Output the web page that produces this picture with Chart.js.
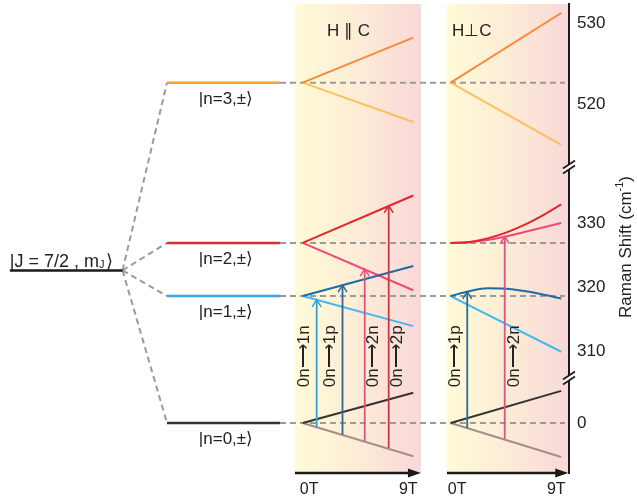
<!DOCTYPE html>
<html>
<head>
<meta charset="utf-8">
<script src="https://cdn.jsdelivr.net/npm/chart.js@4.4.1/dist/chart.umd.min.js"></script>
<style>
  html, body { margin: 0; padding: 0; background: #fff; }
  #myChart { display: block; }
</style>
</head>
<body>
<canvas id="myChart" width="637" height="499" style="width:637px;height:499px"></canvas>
<script>
const FONT = '"Liberation Sans", Arial, Helvetica, sans-serif';

// zero-field energies of |n,±> (cm-1), n = 0..3
const LEVELS = [0, 318.6, 326.9, 522.7];
const LEVEL_NAMES = ['|n=0,±⟩', '|n=1,±⟩', '|n=2,±⟩', '|n=3,±⟩'];
const J_LEVEL = 322.6; // schematic position of the free-ion |J = 7/2, mJ> level

// field points (T)
const FIELD_ENDS = [0, 9];
const FIELD_CURVE = [0, 1.5, 3, 4.5, 6, 7.5, 9];

// H // C : upper (+) and lower (-) branches, linear in field
const PAR_N0_UP = [0, 4.7];
const PAR_N0_DN = [0, -5.2];
const PAR_N1_UP = [318.6, 323.3];
const PAR_N1_DN = [318.6, 313.9];
const PAR_N2_UP = [326.9, 334.3];
const PAR_N2_DN = [326.9, 319.5];
const PAR_N3_UP = [522.7, 528.2];
const PAR_N3_DN = [522.7, 517.9];

// H ⊥ C
const PERP_N0_UP = [0, 5.0];
const PERP_N0_DN = [0, -5.3];
const PERP_N1_UP = [318.6, 319.35, 319.8, 319.75, 319.4, 318.85, 318.2]; // on FIELD_CURVE
const PERP_N1_DN = [318.6, 309.9];
const PERP_N2_UP = [326.9, 327.05, 327.6, 328.5, 329.7, 331.2, 332.9];  // on FIELD_CURVE
const PERP_N2_DN = [326.9, 327.0, 327.35, 327.9, 328.6, 329.3, 330.0];  // on FIELD_CURVE
const PERP_N3_UP = [522.7, 531.2];
const PERP_N3_DN = [522.7, 515.1];

// observed transitions
const PAR_ARROW_LABELS = ['0n⟶1n', '0n⟶1p', '0n⟶2n', '0n⟶2p'];
const PAR_ARROW_FIELD = [1.14, 3.24, 5.05, 7.0];
const PAR_ARROW_FROM = [-0.6, -1.8, -2.8, -3.9];
const PAR_ARROW_TO = [318.0, 320.3, 322.8, 332.7];

const PERP_ARROW_LABELS = ['0n⟶1p', '0n⟶2n'];
const PERP_ARROW_FIELD = [1.35, 4.4];
const PERP_ARROW_FROM = [-0.8, -2.5];
const PERP_ARROW_TO = [319.25, 327.9];

// broken Raman-shift axis
const Y_SEGMENTS = [
  { min: -7.8, max: 7.0, weight: 95 },
  { min: 305.8, max: 338.75, weight: 211 },
  { min: 512.4, max: 532.3, weight: 163 }
];
const Y_TICKS = [0, 310, 320, 330, 520, 530];

// layout (not data)
const J_X = [-23.83, -14.66];
const LEVEL_X = [-11.04, -1.85];
const GUIDE_END = 21.34;
const PANELS = [
  { axis: 'x', from: -0.63, to: 9.62, title: 'H ∥ C', titleDx: 32 },
  { axis: 'x2', from: -0.30, to: 9.57, title: 'H⊥C', titleDx: 5 }
];
const PAR_LABEL_DX = [-12.7, -11.9, 9, 8.5];
const PERP_LABEL_DX = [-12.3, 10];
const ARROW_LABEL_Y = 309.2;

const LEVEL_COLORS = ['#333333', '#3ba4dc', '#d92b3a', '#f5a32a'];
const UP_COLORS = ['#333333', '#1e6aa3', '#e2252b', '#f7893b'];
const DN_COLORS = ['#a58e8a', '#46b6f0', '#f2457a', '#fdc05a'];
const GUIDE = '#9a9a9a';

class BrokenScale extends Chart.LinearScale {
  getPixelForValue(value) {
    const total = Y_SEGMENTS.reduce((s, g) => s + g.weight, 0);
    let acc = 0;
    for (let i = 0; i < Y_SEGMENTS.length; i++) {
      const g = Y_SEGMENTS[i];
      if (value <= g.max || i === Y_SEGMENTS.length - 1) {
        acc += (value - g.min) / (g.max - g.min) * g.weight;
        break;
      }
      acc += g.weight;
    }
    return this.bottom - acc / total * (this.bottom - this.top);
  }
  getValueForPixel(pixel) {
    const total = Y_SEGMENTS.reduce((s, g) => s + g.weight, 0);
    let f = (this.bottom - pixel) / (this.bottom - this.top) * total;
    for (let i = 0; i < Y_SEGMENTS.length; i++) {
      const g = Y_SEGMENTS[i];
      if (f <= g.weight || i === Y_SEGMENTS.length - 1) return g.min + f / g.weight * (g.max - g.min);
      f -= g.weight;
    }
  }
}
BrokenScale.id = 'broken';
BrokenScale.defaults = {};
Chart.register(BrokenScale);

const line = (xs, ys, color, extra = {}) => ({
  data: xs.map((x, i) => ({ x, y: ys[i] })),
  borderColor: color,
  borderWidth: 2,
  pointRadius: 0,
  fill: false,
  ...extra
});

const datasets = [];

// schematic part
LEVELS.forEach((e, n) => {
  datasets.push(line([LEVEL_X[1], GUIDE_END], [e, e], GUIDE, { borderDash: [6, 4], order: 10 }));
  datasets.push(line([J_X[1], LEVEL_X[0]], [J_LEVEL, e], GUIDE, { borderDash: [6, 4], order: 10 }));
  datasets.push(line(LEVEL_X, [e, e], LEVEL_COLORS[n], { borderWidth: 2.5, order: 5 }));
});
datasets.push(line(J_X, [J_LEVEL, J_LEVEL], '#1a1a1a', { borderWidth: 2.5, order: 5 }));

// H // C
[[PAR_N0_UP, PAR_N0_DN], [PAR_N1_UP, PAR_N1_DN], [PAR_N2_UP, PAR_N2_DN], [PAR_N3_UP, PAR_N3_DN]]
  .forEach(([up, dn], n) => {
    datasets.push(line(FIELD_ENDS, up, UP_COLORS[n], { order: 4 }));
    datasets.push(line(FIELD_ENDS, dn, DN_COLORS[n], { order: 4 }));
  });

// H ⊥ C
const curve = { cubicInterpolationMode: 'monotone' };
datasets.push(line(FIELD_ENDS, PERP_N0_UP, UP_COLORS[0], { xAxisID: 'x2', order: 4 }));
datasets.push(line(FIELD_ENDS, PERP_N0_DN, DN_COLORS[0], { xAxisID: 'x2', order: 4 }));
datasets.push(line(FIELD_CURVE, PERP_N1_UP, UP_COLORS[1], { xAxisID: 'x2', order: 4, ...curve }));
datasets.push(line(FIELD_ENDS, PERP_N1_DN, DN_COLORS[1], { xAxisID: 'x2', order: 4 }));
datasets.push(line(FIELD_CURVE, PERP_N2_DN, DN_COLORS[2], { xAxisID: 'x2', order: 4, ...curve }));
datasets.push(line(FIELD_CURVE, PERP_N2_UP, UP_COLORS[2], { xAxisID: 'x2', order: 3, ...curve }));
datasets.push(line(FIELD_ENDS, PERP_N3_UP, UP_COLORS[3], { xAxisID: 'x2', order: 4 }));
datasets.push(line(FIELD_ENDS, PERP_N3_DN, DN_COLORS[3], { xAxisID: 'x2', order: 4 }));

// transition arrows
const ARROW_COLORS = { '0n⟶1n': '#27a4df', '0n⟶1p': '#2a6a9a', '0n⟶2n': '#ec4f7d', '0n⟶2p': '#d7313f' };
PAR_ARROW_LABELS.forEach((lab, i) => {
  const b = PAR_ARROW_FIELD[i];
  datasets.push(line([b, b], [PAR_ARROW_FROM[i], PAR_ARROW_TO[i]], ARROW_COLORS[lab],
    { borderWidth: 1.8, order: 1, arrow: lab, labelDx: PAR_LABEL_DX[i] }));
});
PERP_ARROW_LABELS.forEach((lab, i) => {
  const b = PERP_ARROW_FIELD[i];
  datasets.push(line([b, b], [PERP_ARROW_FROM[i], PERP_ARROW_TO[i]], ARROW_COLORS[lab],
    { xAxisID: 'x2', borderWidth: 1.8, order: 1, arrow: lab, labelDx: PERP_LABEL_DX[i] }));
});

const panelBackgrounds = {
  id: 'panelBackgrounds',
  beforeDraw(chart) {
    const { ctx, chartArea } = chart;
    PANELS.forEach(p => {
      const sc = chart.scales[p.axis];
      const x0 = sc.getPixelForValue(p.from), x1 = sc.getPixelForValue(p.to);
      const g = ctx.createLinearGradient(x0, 0, x1, 0);
      g.addColorStop(0, '#fffbd7');
      g.addColorStop(0.5, '#fdecd6');
      g.addColorStop(1, '#f8d8d8');
      ctx.save();
      ctx.fillStyle = g;
      ctx.fillRect(x0, chartArea.top, x1 - x0, chartArea.bottom - chartArea.top);
      ctx.restore();
    });
  }
};

const decorations = {
  id: 'decorations',
  afterDatasetsDraw(chart) {
    const ctx = chart.ctx;
    const y = chart.scales.y;
    // arrow heads and labels
    chart.data.datasets.forEach((ds, i) => {
      if (!ds.arrow) return;
      const pts = chart.getDatasetMeta(i).data;
      const tip = pts[pts.length - 1];
      ctx.save();
      ctx.strokeStyle = ds.borderColor;
      ctx.lineWidth = 1.5;
      ctx.beginPath();
      ctx.moveTo(tip.x - 4.5, tip.y + 7);
      ctx.lineTo(tip.x, tip.y);
      ctx.lineTo(tip.x + 4.5, tip.y + 7);
      ctx.stroke();
      ctx.translate(tip.x + ds.labelDx, y.getPixelForValue(ARROW_LABEL_Y));
      ctx.rotate(-Math.PI / 2);
      ctx.fillStyle = '#222';
      ctx.font = `17px ${FONT}`;
      ctx.textAlign = 'center';
      ctx.textBaseline = 'middle';
      ctx.fillText(ds.arrow, 0, 0);
      ctx.restore();
    });
  },
  afterDraw(chart) {
    const { ctx, chartArea } = chart;
    const y = chart.scales.y;
    const xs = chart.scales.x;
    ctx.save();
    ctx.fillStyle = '#222';
    ctx.strokeStyle = '#1a1a1a';

    // level labels
    ctx.font = `17px ${FONT}`;
    ctx.textAlign = 'center';
    ctx.textBaseline = 'middle';
    const lx = (xs.getPixelForValue(LEVEL_X[0]) + xs.getPixelForValue(LEVEL_X[1])) / 2 + 2.5;
    LEVELS.forEach((e, n) => ctx.fillText(LEVEL_NAMES[n], lx, y.getPixelForValue(e) + 16.5));

    // |J = 7/2 , mJ>
    ctx.font = `18px ${FONT}`;
    ctx.textAlign = 'left';
    ctx.textBaseline = 'alphabetic';
    let jx = xs.getPixelForValue(J_X[0]);
    const jb = y.getPixelForValue(J_LEVEL) - 3.5;
    const part1 = '|J = 7/2 , m';
    ctx.fillText(part1, jx, jb);
    jx += ctx.measureText(part1).width;
    ctx.font = `11px ${FONT}`;
    ctx.fillText('J', jx, jb + 1);
    jx += ctx.measureText('J').width + 1.5;
    ctx.font = `18px ${FONT}`;
    ctx.fillText('⟩', jx, jb);

    // panel titles, field arrows, 0T / 9T
    PANELS.forEach(p => {
      const sc = chart.scales[p.axis];
      const x0 = sc.getPixelForValue(p.from), x1 = sc.getPixelForValue(p.to);
      ctx.font = `17px ${FONT}`;
      ctx.textAlign = 'left';
      ctx.textBaseline = 'middle';
      ctx.fillStyle = '#222';
      ctx.fillText(p.title, x0 + p.titleDx, chartArea.top + 27);

      const by = chartArea.bottom;
      ctx.lineWidth = 2.5;
      ctx.beginPath();
      ctx.moveTo(x0, by);
      ctx.lineTo(x1 - 8, by);
      ctx.stroke();
      ctx.fillStyle = '#1a1a1a';
      ctx.beginPath();
      ctx.moveTo(x1, by);
      ctx.lineTo(x1 - 13, by - 4.5);
      ctx.lineTo(x1 - 13, by + 4.5);
      ctx.closePath();
      ctx.fill();

      ctx.fillStyle = '#222';
      ctx.font = `16px ${FONT}`;
      ctx.textAlign = 'center';
      ctx.textBaseline = 'alphabetic';
      ctx.fillText(FIELD_ENDS[0] + 'T', sc.getPixelForValue(FIELD_ENDS[0]) + 6.5, by + 21);
      ctx.fillText(FIELD_ENDS[1] + 'T', sc.getPixelForValue(FIELD_ENDS[1]) - 5, by + 21);
    });

    // axis breaks
    const ax = chartArea.right;
    Y_SEGMENTS.slice(0, -1).forEach(g => {
      const py = y.getPixelForValue(g.max);
      ctx.fillStyle = '#fff';
      ctx.beginPath();
      ctx.moveTo(ax - 6, py + 6.5);
      ctx.lineTo(ax + 6, py - 1.5);
      ctx.lineTo(ax + 6, py - 6.5);
      ctx.lineTo(ax - 6, py + 1.5);
      ctx.closePath();
      ctx.fill();
      ctx.lineWidth = 1.8;
      ctx.beginPath();
      ctx.moveTo(ax - 6, py + 6.5);
      ctx.lineTo(ax + 6, py - 1.5);
      ctx.moveTo(ax - 6, py + 1.5);
      ctx.lineTo(ax + 6, py - 6.5);
      ctx.stroke();
    });

    // axis title
    ctx.fillStyle = '#222';
    ctx.translate(626, 247);
    ctx.rotate(-Math.PI / 2);
    ctx.textAlign = 'left';
    ctx.textBaseline = 'middle';
    const t1 = 'Raman Shift (cm', t2 = '-1', t3 = ')';
    ctx.font = `17px ${FONT}`;
    const w1 = ctx.measureText(t1).width, w3 = ctx.measureText(t3).width;
    ctx.font = `11px ${FONT}`;
    const w2 = ctx.measureText(t2).width;
    let tx = -(w1 + w2 + w3) / 2;
    ctx.font = `17px ${FONT}`;
    ctx.fillText(t1, tx, 0);
    tx += w1;
    ctx.font = `11px ${FONT}`;
    ctx.fillText(t2, tx, -6);
    tx += w2;
    ctx.font = `17px ${FONT}`;
    ctx.fillText(t3, tx, 0);
    ctx.restore();
  }
};

const ctx = document.getElementById('myChart');

const myChart = new Chart(ctx, {
  type: 'line',
  data: { datasets },
  options: {
    responsive: false,
    animation: false,
    events: [],
    layout: { padding: { left: 0, right: 0, top: 4, bottom: 26 } },
    plugins: { legend: { display: false }, tooltip: { enabled: false } },
    scales: {
      x: { type: 'linear', display: false, min: -24.63, max: 21.67 },
      x2: { type: 'linear', display: false, min: -36.67, max: 9.63 },
      y: {
        type: 'broken',
        position: 'right',
        min: -7.8,
        max: 532.3,
        afterBuildTicks: s => { s.ticks = Y_TICKS.map(v => ({ value: v })); },
        afterFit: s => { s.width = 68; s.paddingTop = 0; s.paddingBottom = 0; },
        grid: { display: false, drawTicks: false },
        border: { display: true, color: '#1a1a1a', width: 2 },
        ticks: { autoSkip: false, padding: 8, color: '#222', font: { family: FONT, size: 17 } }
      }
    }
  },
  plugins: [panelBackgrounds, decorations]
});
</script>
</body>
</html>
